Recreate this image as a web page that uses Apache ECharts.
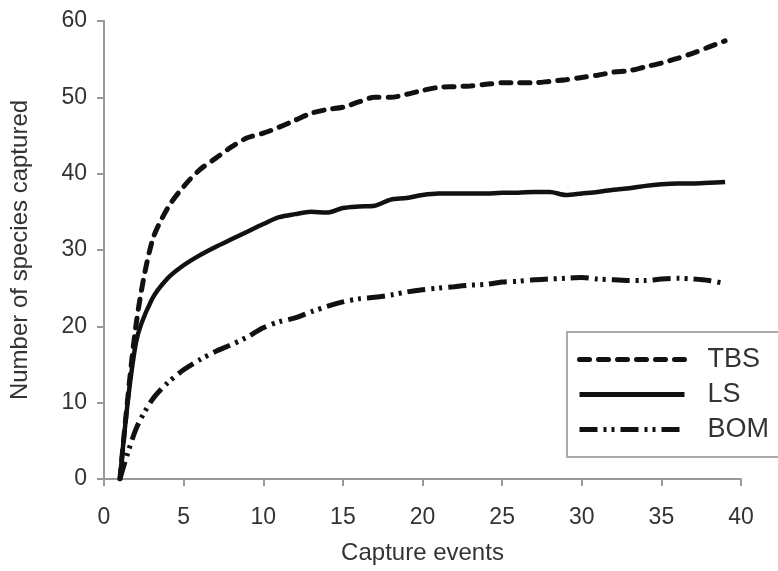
<!DOCTYPE html>
<html>
<head>
<meta charset="utf-8">
<script src="https://cdn.jsdelivr.net/npm/echarts@6/dist/echarts.min.js"></script>
<style>
html,body{margin:0;padding:0;background:#fff;}
#chart{width:778px;height:571px;}
</style>
</head>
<body>
<div id="chart"></div>
<script>
var captureEvents = [1,2,3,4,5,6,7,8,9,10,11,12,13,14,15,16,17,18,19,20,21,22,23,24,25,26,27,28,29,30,31,32,33,34,35,36,37,38,39];
var tbs = [0,20,31,35.5,38.3,40.5,42,43.5,44.7,45.3,46.1,47,47.9,48.4,48.7,49.4,50,50,50.4,50.9,51.3,51.4,51.5,51.7,51.9,51.9,51.9,52.1,52.3,52.6,52.9,53.3,53.5,54,54.5,55.1,55.8,56.6,57.4];
var ls = [0,17.8,23.5,26.3,28.0,29.3,30.4,31.4,32.4,33.4,34.3,34.7,35.0,34.9,35.5,35.7,35.8,36.6,36.8,37.2,37.4,37.4,37.4,37.4,37.5,37.5,37.6,37.6,37.2,37.4,37.6,37.9,38.1,38.4,38.6,38.7,38.7,38.8,38.9];
var bom = [0,6.5,10.3,12.6,14.3,15.6,16.7,17.6,18.6,19.8,20.6,21.1,21.9,22.6,23.2,23.6,23.8,24.1,24.5,24.8,25.0,25.2,25.4,25.5,25.8,25.9,26.1,26.2,26.3,26.4,26.2,26.1,26.0,26.0,26.2,26.3,26.2,26.0,25.6];
var seriesNames = ['TBS','LS','BOM'];
var xTitle = 'Capture events';
var yTitle = 'Number of species captured';

function pairs(vals){ return captureEvents.map(function(x,i){ return [x, vals[i]]; }); }

var FONT = '"Liberation Sans", Arial, sans-serif';
var axisCol = '#999';
var lineCol = '#111';

var chart = echarts.init(document.getElementById('chart'), null, {renderer:'canvas'});
chart.setOption({
  animation:false,
  backgroundColor:'#fff',
  grid:{left:104,right:37,top:21,bottom:92,containLabel:false},
  xAxis:{
    type:'value',min:0,max:40,interval:5,
    name:xTitle,nameLocation:'middle',nameGap:62,
    nameTextStyle:{fontFamily:FONT,fontSize:24,color:'#333'},
    axisLine:{show:true,lineStyle:{color:axisCol,width:2}},
    axisTick:{show:true,inside:false,length:7,lineStyle:{color:axisCol,width:2}},
    axisLabel:{margin:27,fontFamily:FONT,fontSize:23,color:'#333'},
    splitLine:{show:false}
  },
  yAxis:{
    type:'value',min:0,max:60,interval:10,
    name:yTitle,nameLocation:'middle',nameGap:72,
    nameTextStyle:{fontFamily:FONT,fontSize:24,color:'#333'},
    axisLine:{show:true,lineStyle:{color:axisCol,width:2}},
    axisTick:{show:true,inside:false,length:7,lineStyle:{color:axisCol,width:2}},
    axisLabel:{margin:17,fontFamily:FONT,fontSize:23,color:'#333'},
    splitLine:{show:false}
  },
  legend:{
    show:true,orient:'vertical',left:567,top:332,
    data:seriesNames,
    itemWidth:105,itemHeight:14,itemGap:8,
    padding:[14,20,14,10],
    borderColor:'#aaa',borderWidth:2,borderRadius:0,
    itemStyle:{opacity:0},
    lineStyle:{width:5},
    textStyle:{fontFamily:FONT,fontSize:27,color:'#333',lineHeight:27,padding:[0,0,0,18]}
  },
  series:[
    {name:seriesNames[0],type:'line',data:pairs(tbs),symbol:'none',smooth:0.3,
     lineStyle:{color:lineCol,width:5,type:[10,9],cap:'round'},itemStyle:{color:lineCol}},
    {name:seriesNames[1],type:'line',data:pairs(ls),symbol:'none',smooth:0.3,
     lineStyle:{color:lineCol,width:4.5,type:'solid'},itemStyle:{color:lineCol}},
    {name:seriesNames[2],type:'line',data:pairs(bom),symbol:'none',smooth:0.3,
     lineStyle:{color:lineCol,width:5,type:[18,6,3,5,3,6]},itemStyle:{color:lineCol}}
  ]
});
</script>
</body>
</html>
